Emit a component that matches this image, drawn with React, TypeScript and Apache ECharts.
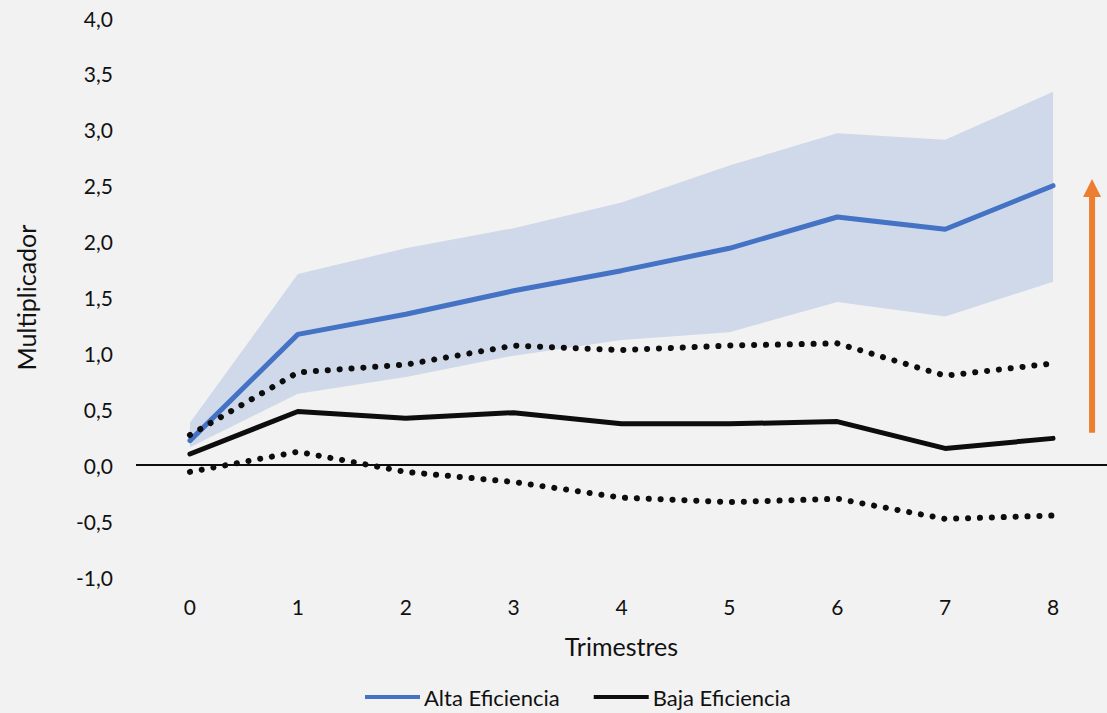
import React, { useEffect, useRef } from "react";
import * as echarts from "echarts";

const categories = ["0", "1", "2", "3", "4", "5", "6", "7", "8"];
const altaEficiencia = [0.22, 1.17, 1.35, 1.56, 1.74, 1.94, 2.22, 2.11, 2.5];
const altaInferior = [0.16, 0.64, 0.79, 0.98, 1.12, 1.19, 1.46, 1.33, 1.64];
const altaSuperior = [0.38, 1.71, 1.94, 2.12, 2.35, 2.68, 2.97, 2.91, 3.34];
const bajaEficiencia = [0.1, 0.48, 0.42, 0.47, 0.37, 0.37, 0.39, 0.15, 0.24];
const bajaSuperior = [0.27, 0.83, 0.9, 1.07, 1.03, 1.07, 1.09, 0.8, 0.91];
const bajaInferior = [-0.06, 0.12, -0.06, -0.15, -0.29, -0.33, -0.3, -0.48, -0.45];
const arrowRange = [0.29, 2.56];

const FONT = "Lato, 'Open Sans', sans-serif";
const TICK_FS = 21;
const NAME_FS = 25;
const LEGEND_FS = 22;

export default function App() {
  const ref = useRef<HTMLDivElement>(null);
  useEffect(() => {
    if (!ref.current) return;
    const chart = echarts.init(ref.current, undefined, { renderer: "svg" });
    const bandDiff = altaSuperior.map((v, i) => +(v - altaInferior[i]).toFixed(3));
    const dotted = {
      width: 6,
      type: [0.1, 11.8] as any,
      cap: "round" as any,
      color: "#0d0d0d",
    };
    chart.setOption({
      animation: false,
      backgroundColor: "#f2f2f2",
      textStyle: { fontFamily: FONT },
      grid: { left: 136, right: -4, top: 18, bottom: 136, containLabel: false },
      legend: {
        data: ["Alta Eficiencia", "Baja Eficiencia"],
        left: 365,
        top: 686,
        padding: 0,
        icon: "rect",
        itemWidth: 55,
        itemHeight: 4,
        itemGap: 34,
        textStyle: { fontSize: LEGEND_FS, color: "#111", fontFamily: FONT, padding: [0, 0, 0, -1] },
      },
      xAxis: {
        type: "category",
        data: categories,
        boundaryGap: true,
        name: "Trimestres",
        nameLocation: "middle",
        nameGap: 56,
        nameTextStyle: { fontSize: NAME_FS, color: "#111", fontFamily: FONT },
        axisLine: { show: false, onZero: false },
        axisTick: { show: false },
        axisLabel: { margin: 19, fontSize: TICK_FS, color: "#111", fontFamily: FONT },
        splitLine: { show: false },
      },
      yAxis: {
        type: "value",
        min: -1,
        max: 4,
        interval: 0.5,
        name: "Multiplicador",
        nameLocation: "middle",
        nameGap: 98,
        nameTextStyle: { fontSize: NAME_FS, color: "#111", fontFamily: FONT },
        axisLine: { show: false },
        axisTick: { show: false },
        splitLine: { show: false },
        axisLabel: {
          margin: 23,
          fontSize: TICK_FS,
          color: "#111",
          fontFamily: FONT,
          formatter: (v: number) => v.toFixed(1).replace(".", ","),
        },
      },
      series: [
        {
          name: "bandBase",
          type: "line",
          stack: "band",
          data: altaInferior,
          symbol: "none",
          lineStyle: { width: 0, opacity: 0 },
          silent: true,
          markLine: {
            silent: true,
            symbol: "none",
            label: { show: false },
            lineStyle: { color: "#0d0d0d", width: 2, type: "solid" },
            data: [{ yAxis: 0 }],
          },
        },
        {
          name: "band",
          type: "line",
          stack: "band",
          data: bandDiff,
          symbol: "none",
          lineStyle: { width: 0, opacity: 0 },
          areaStyle: { color: "#cfd9e9", opacity: 1 },
          silent: true,
        },
        {
          name: "Alta Eficiencia",
          type: "line",
          data: altaEficiencia,
          symbol: "none",
          color: "#4472c4",
          lineStyle: { width: 5, color: "#4472c4", cap: "round" },
        },
        {
          name: "Baja Eficiencia",
          type: "line",
          data: bajaEficiencia,
          symbol: "none",
          color: "#0d0d0d",
          lineStyle: { width: 5, color: "#0d0d0d", cap: "round" },
        },
        {
          name: "bajaSuperior",
          type: "line",
          data: bajaSuperior,
          symbol: "none",
          lineStyle: dotted,
        },
        {
          name: "bajaInferior",
          type: "line",
          data: bajaInferior,
          symbol: "none",
          lineStyle: dotted,
        },
      ],
    });
    const x = (chart.convertToPixel({ xAxisIndex: 0 }, "8") as number) + 39;
    const yBottom = chart.convertToPixel({ yAxisIndex: 0 }, arrowRange[0]) as number;
    const yTop = chart.convertToPixel({ yAxisIndex: 0 }, arrowRange[1]) as number;
    const headH = 18;
    const headW = 18;
    chart.setOption({
      graphic: [
        {
          type: "rect",
          shape: { x: x - 3, y: yTop + headH - 1, width: 6, height: yBottom - yTop - headH + 1 },
          style: { fill: "#ed7d31" },
        },
        {
          type: "polygon",
          shape: {
            points: [
              [x, yTop],
              [x - headW / 2, yTop + headH],
              [x + headW / 2, yTop + headH],
            ],
          },
          style: { fill: "#ed7d31" },
        },
      ],
    });
    return () => chart.dispose();
  }, []);
  return (
    <div
      ref={ref}
      style={{ position: "fixed", left: 0, top: 0, width: 1107, height: 713 }}
    />
  );
}
